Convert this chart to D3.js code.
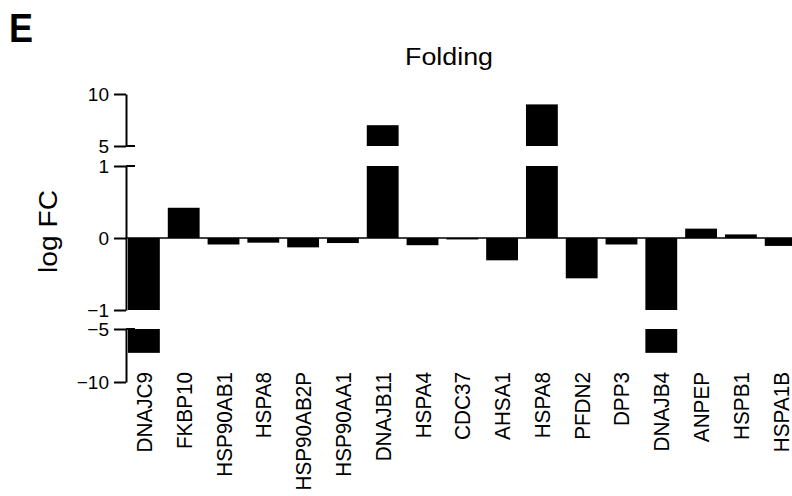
<!DOCTYPE html>
<html><head><meta charset="utf-8">
<script src="https://cdn.jsdelivr.net/npm/d3@7"></script>
<style>body{margin:0;background:#fff}svg{display:block}text{font-family:Arial,"Liberation Sans",sans-serif;fill:#000}</style>
</head><body><svg id="c" width="792" height="496"></svg>
<script>
const genes = ["DNAJC9","FKBP10","HSP90AB1","HSPA8","HSP90AB2P","HSP90AA1","DNAJB11","HSPA4","CDC37","AHSA1","HSPA8","PFDN2","DPP3","DNAJB4","ANPEP","HSPB1","HSPA1B"];
const logFC = [-7.25,0.42,-0.09,-0.065,-0.13,-0.07,7.0,-0.1,-0.02,-0.31,9.0,-0.56,-0.09,-7.25,0.13,0.05,-0.11];
const topTicks = [5,10];
const midTicks = [-1,0,1];
const botTicks = [-10,-5];
const title = "Folding";
const yLabel = "log FC";
const panel = "E";

const svg = d3.select("#c");
const axisX = 126;
const x = d3.scaleBand().domain(d3.range(genes.length)).range([126, 798.6]).paddingInner(0.2).paddingOuter(0.05);
const yTop = d3.scaleLinear().domain([5,10]).range([146,94]);
const yMid = d3.scaleLinear().domain([-1,1]).range([310,166]);
const yBot = d3.scaleLinear().domain([-10,-5]).range([382,329]);

// zero baseline
svg.append("line").attr("x1",axisX).attr("x2",792).attr("y1",yMid(0)).attr("y2",yMid(0))
  .attr("stroke","#000").attr("stroke-width",1.5);

// bars
const segs = [];
logFC.forEach((v,i)=>{
  const vm = Math.max(-1, Math.min(1, v));
  segs.push({i, y0: yMid(0), y1: yMid(vm)});
  if (v > 1) segs.push({i, y0: yTop(5), y1: yTop(v)});
  if (v < -1) segs.push({i, y0: yBot(-5), y1: yBot(v)});
});
svg.append("g").selectAll("rect").data(segs).join("rect")
  .attr("x", d=>x(d.i)).attr("width", x.bandwidth())
  .attr("y", d=>Math.min(d.y0,d.y1)).attr("height", d=>Math.abs(d.y1-d.y0))
  .attr("fill","#000");

// axes
function drawAxis(scale, ticks){
  const g = svg.append("g").attr("transform",`translate(${axisX},0)`)
    .call(d3.axisLeft(scale).tickValues(ticks).tickSize(12).tickPadding(5).tickSizeOuter(0).tickFormat(d3.format("d")));
  g.select(".domain").attr("stroke-width",2);
  g.selectAll(".tick line").attr("stroke-width",2);
  g.selectAll(".tick text").attr("font-size",19).style("font-family","Arial, 'Liberation Sans', sans-serif");
  return g;
}
drawAxis(yTop, topTicks);
drawAxis(yMid, midTicks);
drawAxis(yBot, botTicks);
// break caps extending right
[yTop(5), yMid(1), yBot(-5)].forEach(y=>{
  svg.append("line").attr("x1",axisX).attr("x2",axisX+9).attr("y1",y).attr("y2",y)
    .attr("stroke","#000").attr("stroke-width",2);
});

// x labels
const xl = svg.append("g").selectAll("text").data(genes).join("text")
  .attr("transform",(d,i)=>`translate(${x(i)+x.bandwidth()/2+8},372) rotate(-90)`)
  .attr("text-anchor","end").attr("font-size",22.5).attr("lengthAdjust","spacingAndGlyphs").text(d=>d);
xl.each(function(){ const L=this.getComputedTextLength(); d3.select(this).attr("textLength", L*0.92); });

// title, panel, y label
svg.append("text").attr("x",449).attr("y",65).attr("text-anchor","middle").attr("font-size",23)
  .attr("textLength",88).attr("lengthAdjust","spacingAndGlyphs").text(title);
svg.append("text").attr("x",9).attr("y",42).attr("font-size",40).attr("font-weight","bold")
  .attr("textLength",24).attr("lengthAdjust","spacingAndGlyphs").text(panel);
svg.append("text").attr("transform","translate(57,231.5) rotate(-90)").attr("text-anchor","middle").attr("font-size",25)
  .attr("textLength",83).attr("lengthAdjust","spacingAndGlyphs").text(yLabel);
</script></body></html>
